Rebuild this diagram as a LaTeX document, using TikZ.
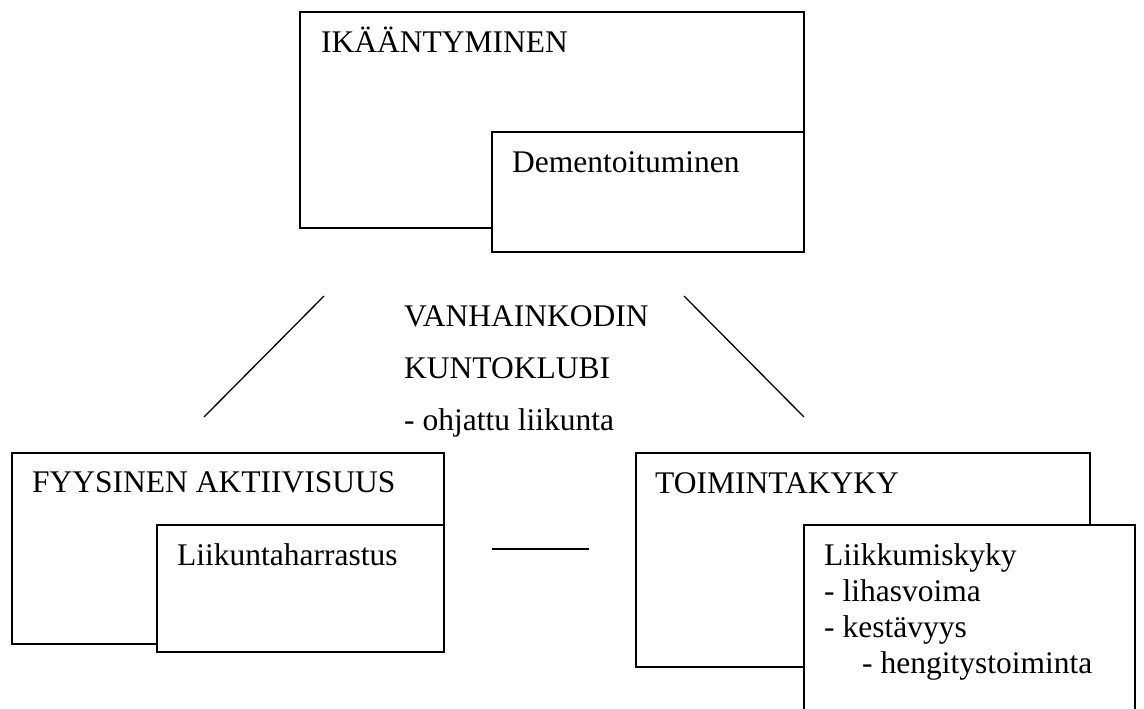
\documentclass[tikz,border=0pt]{standalone}
\usepackage{fontspec}
\setmainfont{Liberation Serif}
\begin{document}
\begin{tikzpicture}[x=1pt,y=-1pt,
  box/.style={draw, line width=1.4pt, fill=white, inner sep=0pt, outer sep=0pt, anchor=north west},
  lbl/.style={anchor=base west, inner sep=0pt, font=\fontsize{31.5}{36}\selectfont},
  link/.style={line width=1.3pt}]
\useasboundingbox (0,0) rectangle (1144,709);
% top group
\node[box, minimum width=504pt, minimum height=216pt] (age) at (300,12) {};
\node[box, minimum width=312pt, minimum height=120pt] (dem) at (492,132) {};
\node[lbl] (ageT) at (321,53) {IKÄÄNTYMINEN};
\node[lbl] (demT) at (512,172) {Dementoituminen};
% centre text
\node[lbl] (c1) at (404,326) {VANHAINKODIN};
\node[lbl] (c2) at (404,378) {KUNTOKLUBI};
\node[lbl] (c3) at (404,430) {- ohjattu liikunta};
% left group
\node[box, minimum width=432pt, minimum height=191pt] (fa) at (12,453) {};
\node[box, minimum width=287pt, minimum height=127pt] (lh) at (157,525) {};
\node[lbl] (faT) at (32,492) {FYYSINEN AKTIIVISUUS};
\node[lbl] (lhT) at (177,565) {Liikuntaharrastus};
% right group
\node[box, minimum width=454pt, minimum height=214pt] (tk) at (636,453) {};
\node[box, minimum width=331pt, minimum height=200pt] (lk) at (804,525) {};
\node[lbl] (tkT) at (655,493) {TOIMINTAKYKY};
\node[lbl] (lk1) at (824,565) {Liikkumiskyky};
\node[lbl] (lk2) at (824,601) {- lihasvoima};
\node[lbl] (lk3) at (824,637) {- kestävyys};
\node[lbl] (lk4) at (862,673) {- hengitystoiminta};
% connectors
\coordinate (l1a) at (324,296);
\coordinate (l1b) at (204,417);
\coordinate (l2a) at (684,296);
\coordinate (l2b) at (804,417);
\coordinate (l3a) at (492,549);
\coordinate (l3b) at (589,549);
\draw[link] (l1a) -- (l1b);
\draw[link] (l2a) -- (l2b);
\draw[link] (l3a) -- (l3b);
\end{tikzpicture}
\end{document}
